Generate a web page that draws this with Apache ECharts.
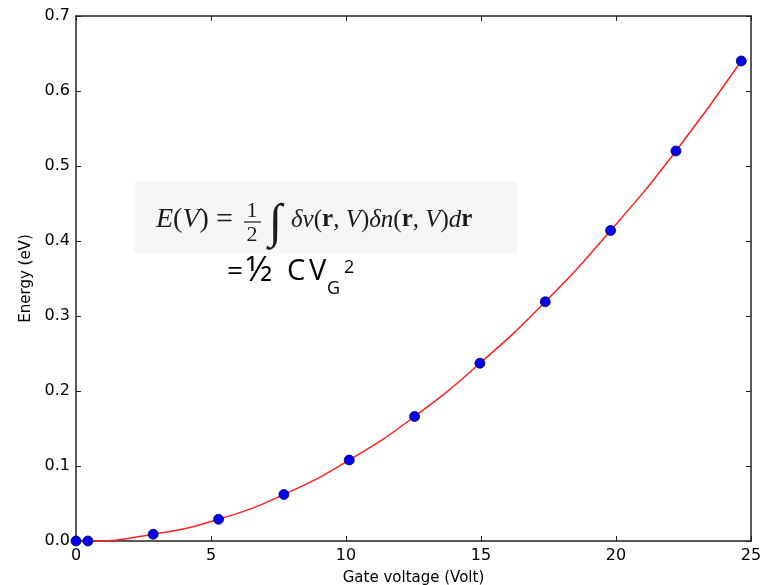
<!DOCTYPE html>
<html>
<head>
<meta charset="utf-8">
<script src="https://cdn.jsdelivr.net/npm/echarts@6/dist/echarts.min.js"></script>
<style>
  html, body { margin: 0; padding: 0; background: #fff; }
  #chart { width: 775px; height: 585px; }
</style>
</head>
<body>
<div id="chart"></div>
<script>
// gate voltage (Volt) and energy (eV)
var voltage = [0, 0.44, 2.86, 5.28, 7.7, 10.12, 12.54, 14.96, 17.38, 19.8, 22.22, 24.64];
var energy = [0, 0, 0.009, 0.029, 0.062, 0.108, 0.166, 0.237, 0.319, 0.414, 0.520, 0.640];
var xTicks = [0, 5, 10, 15, 20, 25];
var yTicks = [0.0, 0.1, 0.2, 0.3, 0.4, 0.5, 0.6, 0.7];

var points = voltage.map(function (v, i) { return [v, energy[i]]; });

var chart = echarts.init(document.getElementById('chart'));
var tickFont = {fontFamily: 'DejaVu Sans', fontSize: 16, color: '#000'};
var serif = 'Liberation Serif';
var sans = 'Open Sans';

var axisBase = {
  type: 'value',
  axisLine: {show: true, onZero: false, lineStyle: {color: '#222', width: 1.5}},
  axisTick: {show: true, inside: true, length: 5, lineStyle: {color: '#222'}},
  splitLine: {show: false}
};

function t(x, y, s, size, extra) {
  return {type: 'text', x: x, y: y, z: 5, style: Object.assign({
    text: s, fontFamily: serif, fontSize: size, fill: '#1a1a1a', verticalAlign: 'middle'
  }, extra || {})};
}

chart.setOption({
  animation: false,
  grid: {left: 76, right: 24, top: 16, bottom: 44, containLabel: false, outerBoundsMode: 'none'},
  xAxis: [
    Object.assign({}, axisBase, {
      min: 0, max: 25, interval: 5, position: 'bottom',
      name: 'Gate voltage (Volt)', nameLocation: 'middle', nameGap: 30,
      nameTextStyle: {fontFamily: 'DejaVu Sans', fontSize: 15, color: '#000'},
      axisLabel: Object.assign({margin: 7, formatter: function (v) { return xTicks.indexOf(v) >= 0 ? String(v) : ''; }}, tickFont)
    }),
    Object.assign({}, axisBase, {
      min: 0, max: 25, interval: 5, position: 'top', axisLabel: {show: false}
    })
  ],
  yAxis: [
    Object.assign({}, axisBase, {
      min: 0, max: 0.7, interval: 0.1, position: 'left',
      name: 'Energy (eV)', nameLocation: 'middle', nameGap: 42, nameRotate: 90,
      nameTextStyle: {fontFamily: 'DejaVu Sans', fontSize: 15, color: '#000'},
      axisLabel: Object.assign({margin: 6, formatter: function (v) {
        var k = yTicks.filter(function (q) { return Math.abs(q - v) < 1e-6; });
        return k.length ? k[0].toFixed(1) : '';
      }}, tickFont)
    }),
    Object.assign({}, axisBase, {
      min: 0, max: 0.7, interval: 0.1, position: 'right', axisLabel: {show: false}
    })
  ],
  series: [
    {
      type: 'line',
      data: points,
      smooth: true,
      showSymbol: false,
      lineStyle: {color: '#ff2020', width: 1.5},
      z: 2
    },
    {
      type: 'scatter',
      data: points,
      symbolSize: 10,
      itemStyle: {color: '#0000ee', borderColor: '#000066', borderWidth: 0.8, opacity: 1},
      z: 3
    }
  ],
  graphic: [
    {type: 'rect', shape: {x: 134, y: 182, width: 383, height: 71}, style: {fill: '#f6f6f6'}, z: 1},
    // E(V) = 1/2 ∫ δv(r,V) δn(r,V) dr
    t(156, 220, '{i|E}({i|V})', 28, {rich: {i: {fontFamily: serif, fontStyle: 'italic', fontSize: 28, fill: '#1a1a1a'}}}),
    t(216, 220, '=', 30),
    t(252, 211, '1', 22, {align: 'center'}),
    {type: 'line', shape: {x1: 244, y1: 222, x2: 261, y2: 222}, style: {stroke: '#1a1a1a', lineWidth: 1.2}, z: 5},
    t(252, 235, '2', 22, {align: 'center'}),
    t(269, 224, '\u222B', 48, {fontStyle: 'italic'}),
    t(291, 220, '{i|\u03B4v}({b|r}, {i|V}){i|\u03B4n}({b|r}, {i|V}){i|d}{b|r}', 25, {rich: {
      i: {fontFamily: serif, fontStyle: 'italic', fontSize: 25, fill: '#1a1a1a'},
      b: {fontFamily: serif, fontWeight: 'bold', fontSize: 25, fill: '#1a1a1a'}
    }}),
    // = ½ C V_G^2
    t(227, 272, '=', 28, {fontFamily: sans, fill: '#000'}),
    t(246, 271, '\u00BD', 34, {fontFamily: sans, fill: '#000'}),
    t(287, 272, 'C', 29, {fontFamily: sans, fill: '#000'}),
    t(309, 272, 'V', 29, {fontFamily: sans, fill: '#000'}),
    t(327, 289, 'G', 18, {fontFamily: sans, fill: '#000'}),
    t(344, 268, '2', 18, {fontFamily: sans, fill: '#000'})
  ]
});
</script>
</body>
</html>
